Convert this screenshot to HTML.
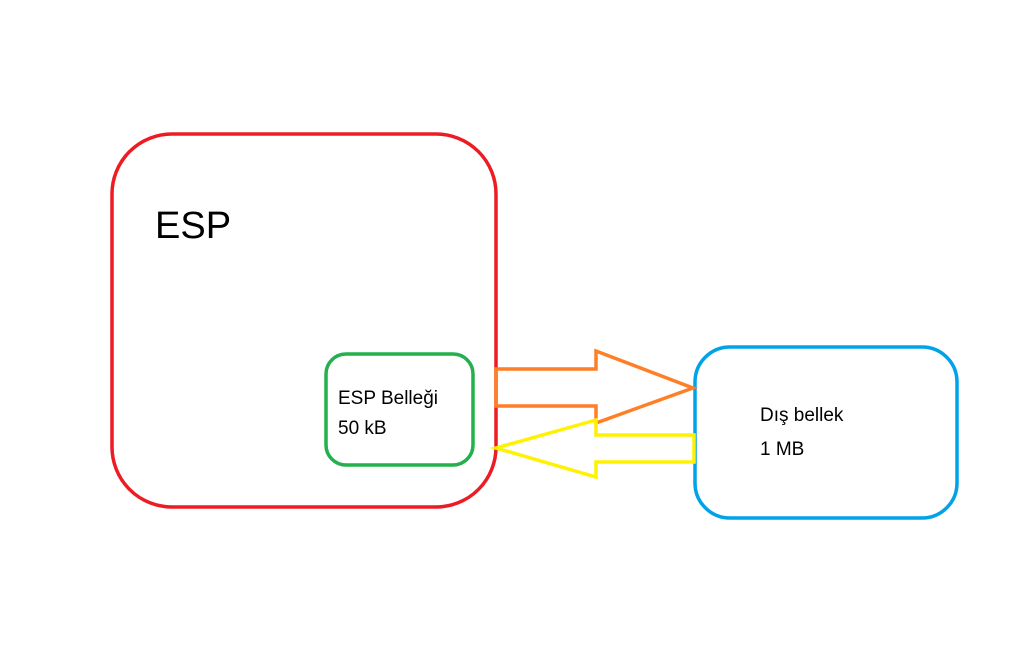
<!DOCTYPE html>
<html><head><style>body{margin:0;background:#fff}svg{display:block}</style></head><body>
<svg width="1024" height="656" xmlns="http://www.w3.org/2000/svg" font-family="Liberation Sans, DejaVu Sans, sans-serif">
<rect x="112" y="134" width="384" height="373" rx="60" fill="none" stroke="#ed1c24" stroke-width="3.5"/>
<text x="155" y="238" font-size="38" fill="#000">ESP</text>
<rect x="326" y="354" width="147" height="111" rx="20" fill="none" stroke="#22b14c" stroke-width="3.5"/>
<text x="338" y="404" font-size="19">ESP Belleği</text>
<text x="338" y="434" font-size="19">50 kB</text>
<rect x="695" y="347" width="262" height="171" rx="35" fill="none" stroke="#00a2e8" stroke-width="3.5"/>
<text x="760" y="421" font-size="19">Dış bellek</text>
<text x="760" y="455" font-size="19">1 MB</text>
<polygon points="496,369 596,369 596,351 693,388 596,423 596,406 496,406" fill="none" stroke="#ff7f27" stroke-width="3.5" stroke-linejoin="miter"/>
<polygon points="694,435 596,435 596,420 496,448 596,477 596,462 694,462" fill="none" stroke="#fff200" stroke-width="3.5"/>
</svg>
</body></html>
